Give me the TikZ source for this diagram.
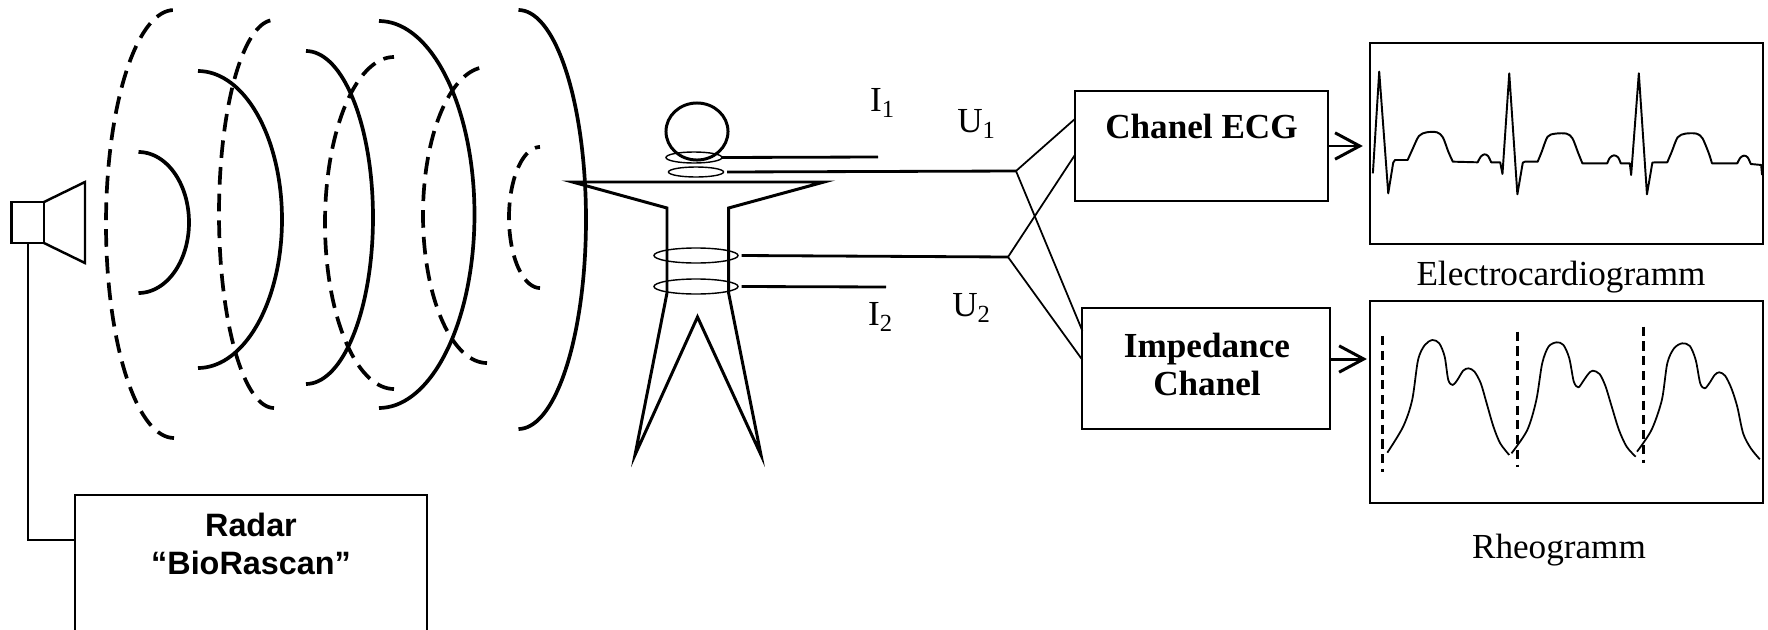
\documentclass[tikz,border=0pt]{standalone}
\usepackage{fontspec}
\setmainfont{Liberation Serif}
\newfontfamily\arialfont{Liberation Sans}
\usetikzlibrary{calc,shapes.geometric,arrows.meta}

% half-ellipse wave fronts: centre x, centre y, x radius, y radius, style
\newcommand\frontR[5]{\draw[#5] plot[domain=-90:90,samples=70,smooth] ({#1+#3*cos(\x)},{#2+#4*sin(\x)});}
\newcommand\frontL[5]{\draw[#5] plot[domain=90:270,samples=70,smooth] ({#1+#3*cos(\x)},{#2+#4*sin(\x)});}

\begin{document}
\begin{tikzpicture}[x=0.01cm,y=-0.01cm,
  wave/.style={line width=1.05pt},
  wavedash/.style={line width=1.05pt, dash pattern=on 5pt off 2.6pt},
  frame/.style={draw, line width=0.55pt, inner sep=0pt, outer sep=0pt},
  wire/.style={line width=0.8pt},
  lead/.style={line width=0.5pt},
  ring/.style={draw, ellipse, line width=0.4pt, inner sep=0pt, outer sep=0pt},
  body/.style={line width=0.85pt},
  outarrow/.style={line width=0.85pt, -{Straight Barb[length=7pt,width=7.5pt,line width=0.85pt]}},
  trace/.style={line width=0.55pt, line join=round},
  marker/.style={line width=0.8pt, dash pattern=on 2.6pt off 1.6pt},
  lbl/.style={font=\fontsize{10}{12}\selectfont, inner sep=0pt},
  blbl/.style={font=\fontsize{10}{10.8}\selectfont\bfseries, inner sep=0pt, align=center},
]
\useasboundingbox (0,0) rectangle (1768,630);
\clip (0,0) rectangle (1768,630);

% ---- radar antenna and unit ----
\node[frame, line width=0.7pt, minimum width=0.325cm, minimum height=0.41cm] (spk) at (27.75,222.5) {};
\draw[line width=0.7pt] (spk.north east) -- (85,182) -- (85,263) -- (spk.south east);
\node[frame, minimum width=3.52cm, minimum height=1.6cm, anchor=north] (radar) at (251,495) {};
\node[font=\arialfont\bfseries\fontsize{9.2}{10.8}\selectfont, align=center, inner sep=0pt] (radtxt) at (251,544) {Radar\\“BioRascan”};
\draw[lead] (spk.south) |- ($(radar.north west)+(0,45)$);

% ---- wave fronts ----
\frontR{138.5}{222.5}{50.5}{70.5}{wave}
\frontL{174}{224}{68}{214}{wavedash}
\frontR{198}{219.5}{84}{148.5}{wave}
\frontL{274}{214}{55}{194}{wavedash}
\frontR{306}{217.5}{67}{166.5}{wave}
\frontL{394}{223}{69}{166}{wavedash}
\frontR{379}{214.5}{95.5}{193.5}{wave}
\frontL{487}{215}{64}{148}{wavedash}
\frontL{540}{217.5}{31}{70.5}{wavedash}
\frontR{518.5}{219.5}{67.5}{209.5}{wave}

% ---- human figure with electrode rings ----
\node[draw, ellipse, body, inner sep=0pt, minimum width=0.62cm, minimum height=0.57cm] (head) at (697,131.5) {};
\draw[body] (635,455) -- (667,293) -- (667,208) -- (572.5,182) -- (824,182) -- (728.6,208)
  -- (728.6,293) -- (761,455) -- (697.5,317) -- cycle;
\node[ring, minimum width=0.56cm, minimum height=0.11cm] (r1) at (694,157.5) {};
\node[ring, minimum width=0.55cm, minimum height=0.10cm] (r2) at (696,172) {};
\node[ring, minimum width=0.84cm, minimum height=0.15cm] (r3) at (696,255.5) {};
\node[ring, minimum width=0.84cm, minimum height=0.15cm] (r4) at (696,286.5) {};

\coordinate (i1) at (878,157);
\coordinate (i2) at (886,287);
\coordinate (j1) at (1016,171);
\coordinate (j2) at (1008,257);
\draw[wire] (r1.east) -- (i1);
\draw[wire] ([xshift=1pt]r2.east) -- (j1);
\draw[wire] ([xshift=1pt]r3.east) -- (j2);
\draw[wire] ([xshift=1pt]r4.east) -- (i2);

\node[lbl] (lI1) at (883,103) {I\textsubscript{1}};
\node[lbl] (lU1) at (977,124) {U\textsubscript{1}};
\node[lbl] (lI2) at (881,317) {I\textsubscript{2}};
\node[lbl] (lU2) at (972,308) {U\textsubscript{2}};

% ---- channels ----
\node[frame, minimum width=2.53cm, minimum height=1.10cm] (ecg) at (1201.5,146) {};
\node[blbl] (ecgtxt) at (1201.5,126.5) {Chanel ECG};
\node[frame, minimum width=2.47cm, minimum height=1.21cm] (imp) at (1206,368.5) {};
\node[blbl] (imptxt) at (1207,364) {Impedance\\Chanel};

\draw[lead] (j1) -- ($(ecg.north west)+(0,28)$);
\draw[lead] (j1) -- ($(imp.north west)+(0,23)$);
\draw[lead] (j2) -- ($(ecg.north west)+(0,64)$);
\draw[lead] (j2) -- ($(imp.north west)+(0,52)$);

% ---- recorded signals ----
\node[frame, minimum width=3.93cm, minimum height=2.01cm] (ecgplot) at (1566.5,143.5) {};
\node[frame, minimum width=3.93cm, minimum height=2.02cm] (rheoplot) at (1566.5,402) {};
\node[lbl] (ecgcap) at (1561,277) {Electrocardiogramm};
\node[lbl] (rheocap) at (1559,550) {Rheogramm};

\draw[outarrow, shorten >=2pt] (ecg.east) -- (ecg.east -| ecgplot.west);
\draw[outarrow, shorten >=0.85pt] ([yshift=2.7pt]imp.east) -- ([yshift=2.7pt]imp.east -| rheoplot.west);

% electrocardiogram trace
\begin{scope}[shift={(1060,30)}, xscale=0.4515, yscale=0.3333]
\draw[trace] (693,430) -- (707,125) -- (727,490) -- (738,398) -- (742,390) -- (770,390)
  -- plot[smooth, tension=0.5] coordinates {(770,390) (780,360) (795,318) (812,307) (835,307) (848,322) (860,365) (870,395)}
  -- (925,397)
  -- plot[smooth] coordinates {(925,397) (932,380) (940,373) (948,378) (955,397)}
  -- (975,397) -- (980,432) -- (995,130) -- (1013,493) -- (1025,398) -- (1030,395) -- (1058,395)
  -- plot[smooth, tension=0.5] coordinates {(1058,395) (1067,365) (1080,320) (1097,311) (1122,311) (1135,325) (1148,370) (1157,400)}
  -- (1212,400)
  -- plot[smooth] coordinates {(1212,400) (1218,383) (1227,376) (1236,382) (1242,400)}
  -- (1262,400) -- (1265,435) -- (1282,130) -- (1300,493) -- (1312,398) -- (1318,397) -- (1345,397)
  -- plot[smooth, tension=0.5] coordinates {(1345,397) (1355,365) (1368,322) (1385,311) (1410,311) (1423,325) (1437,370) (1444,400)}
  -- (1500,400)
  -- plot[smooth] coordinates {(1500,400) (1507,383) (1515,377) (1523,382) (1530,402)}
  -- (1553,405) -- (1555,435);
\end{scope}

% rheogram trace with cycle markers
\begin{scope}[shift={(1060,280)}, xscale=0.4515, yscale=0.3333]
\draw[marker] (714,168) -- (714,575);
\draw[marker] (1013.5,155) -- (1013.5,560);
\draw[marker] (1292,140) -- (1292,548);
\draw[trace, line width=0.5pt] plot[smooth] coordinates {(725,518) (760,440) (780,360) (793,240) (808,195) (825,180) (840,190) (852,230) (860,300) (870,315) (880,300) (893,272) (905,265) (918,275) (932,310) (945,370) (960,440) (975,490) (995,525)};
\draw[trace, line width=0.5pt] plot[smooth] coordinates {(1000,520) (1035,450) (1055,360) (1068,250) (1082,200) (1100,187) (1115,195) (1128,235) (1138,305) (1148,322) (1158,305) (1170,282) (1180,272) (1195,282) (1208,318) (1222,380) (1238,450) (1255,500) (1275,530)};
\draw[trace, line width=0.5pt] plot[smooth] coordinates {(1278,515) (1310,450) (1333,360) (1345,250) (1360,205) (1378,190) (1395,198) (1408,240) (1418,310) (1428,325) (1438,310) (1450,285) (1460,277) (1473,287) (1487,325) (1500,380) (1513,460) (1530,505) (1550,538)};
\end{scope}
\end{tikzpicture}
\end{document}
